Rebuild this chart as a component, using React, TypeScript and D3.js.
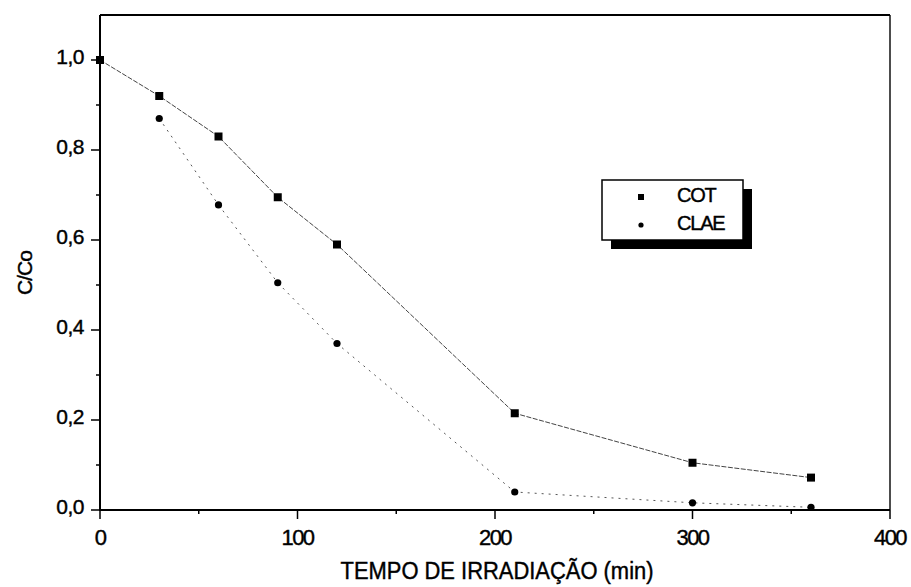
import React from "react";
import * as d3 from "d3";

const times = [0, 30, 60, 90, 120, 210, 300, 360];
const cot = [1.0, 0.92, 0.83, 0.695, 0.59, 0.215, 0.105, 0.072];
const clae = [1.0, 0.87, 0.678, 0.505, 0.37, 0.04, 0.016, 0.006];
const xTicks = [0, 100, 200, 300, 400];
const xMinor = [50, 150, 250, 350];
const yTicks = [0, 0.2, 0.4, 0.6, 0.8, 1.0];
const yMinor = [0.1, 0.3, 0.5, 0.7, 0.9];
const legendItems = ["COT", "CLAE"];

export default function App() {
  const W = 911, H = 587;
  const x = d3.scaleLinear().domain([0, 400]).range([100, 890]);
  const y = d3.scaleLinear().domain([0, 1.1]).range([510, 15]);
  const fmt = (v: number) => v.toFixed(1).replace(".", ",");
  const lineGen = d3.line<number>().x((_, i) => x(times[i])).y((d) => y(d));
  const font = "'Liberation Sans', Arial, sans-serif";
  const clae0 = clae.slice(1);
  const t0 = times.slice(1);
  const txt = { stroke: "#000", strokeWidth: 0.4 };
  return (
    <svg width={W} height={H} style={{ position: "absolute", left: 0, top: 0, background: "#fff" }} fontFamily={font}>
      <rect width={W} height={H} fill="#fff" />
      {/* frame */}
      <line x1={x(0)} x2={x(400)} y1={y(1.1)} y2={y(1.1)} stroke="#000" strokeWidth={1.8} />
      <line x1={x(400)} x2={x(400)} y1={y(1.1)} y2={y(0)} stroke="#000" strokeWidth={1.4} />
      <line x1={x(0)} x2={x(0)} y1={y(1.1)} y2={y(0)} stroke="#000" strokeWidth={2} />
      <line x1={x(0) - 1} x2={x(400)} y1={y(0)} y2={y(0)} stroke="#000" strokeWidth={2.2} />
      {/* y ticks */}
      {yTicks.map((t) => (
        <g key={"yt" + t}>
          <line x1={x(0) - 9} x2={x(0)} y1={y(t)} y2={y(t)} stroke="#000" strokeWidth={1.5} />
          <text x={84} y={y(t) - 2} textAnchor="end" fontSize={21} dominantBaseline="middle" letterSpacing={-0.5} {...txt}>{fmt(t)}</text>
        </g>
      ))}
      {yMinor.map((t) => (
        <line key={"ym" + t} x1={x(0) - 4} x2={x(0)} y1={y(t)} y2={y(t)} stroke="#000" strokeWidth={1.5} />
      ))}
      {/* x ticks */}
      {xTicks.map((t) => (
        <g key={"xt" + t}>
          <line x1={x(t)} x2={x(t)} y1={y(0)} y2={y(0) + 9} stroke="#000" strokeWidth={1.5} />
          <text x={x(t)} y={545} textAnchor="middle" fontSize={22} letterSpacing={-1.5} {...txt}>{t}</text>
        </g>
      ))}
      {xMinor.map((t) => (
        <line key={"xm" + t} x1={x(t)} x2={x(t)} y1={y(0)} y2={y(0) + 4} stroke="#000" strokeWidth={1.5} />
      ))}
      {/* axis titles */}
      <text x={497} y={579} textAnchor="middle" fontSize={23} textLength={313} lengthAdjust="spacingAndGlyphs" {...txt}>TEMPO DE IRRADIAÇÃO (min)</text>
      <text transform={`translate(32,${273}) rotate(-90)`} textAnchor="middle" fontSize={21} letterSpacing={-1} {...txt}>C/Co</text>
      {/* lines */}
      <path d={lineGen(cot) || ""} fill="none" stroke="#444" strokeWidth={1} strokeDasharray="5,1.5" />
      <path
        d={d3.line<number>().x((_, i) => x(t0[i])).y((d) => y(d))(clae0) || ""}
        fill="none" stroke="#555" strokeWidth={1} strokeDasharray="2,5" />
      {/* markers */}
      {cot.map((v, i) => (
        <rect key={"c" + i} x={x(times[i]) - 4} y={y(v) - 4} width={8} height={8} fill="#000" />
      ))}
      {clae0.map((v, i) => (
        <circle key={"l" + i} cx={x(t0[i])} cy={y(v)} r={3.6} fill="#000" />
      ))}
      {/* legend */}
      <rect x={611} y={189} width={141} height={60} fill="#000" />
      <rect x={602} y={180} width={141} height={60} fill="#fff" stroke="#000" strokeWidth={1.5} />
      {legendItems.map((name, i) => (
        <g key={name}>
          {i === 0 ? (
            <rect x={638} y={197 - 3} width={6} height={6} fill="#000" />
          ) : (
            <circle cx={641} cy={225} r={2.6} fill="#000" />
          )}
          <text x={677} y={197 + i * 28} dominantBaseline="middle" fontSize={20} letterSpacing={-1.2} {...txt}>{name}</text>
        </g>
      ))}
    </svg>
  );
}
